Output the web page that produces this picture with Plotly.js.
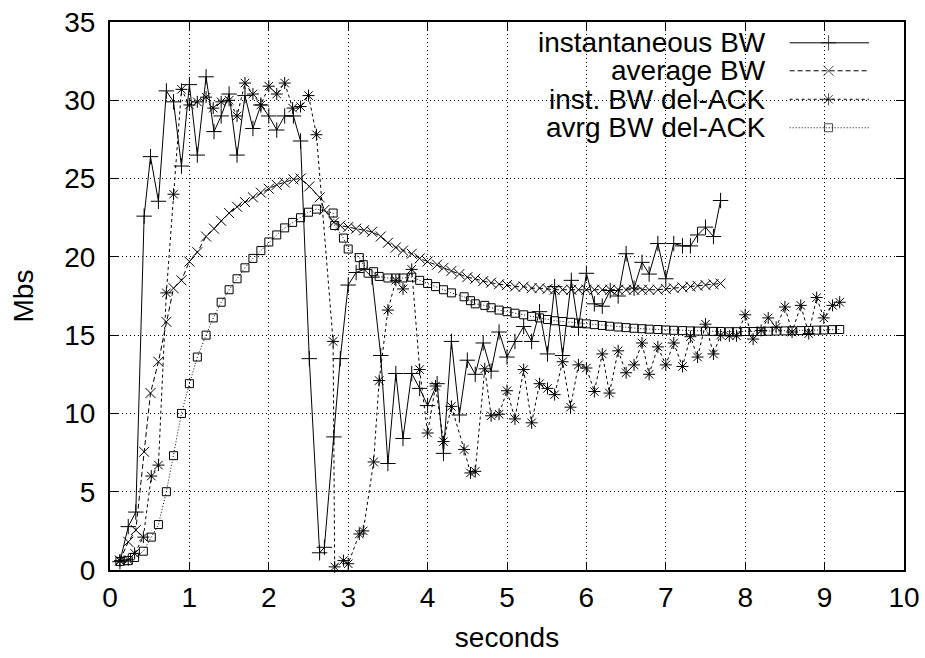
<!DOCTYPE html>
<html>
<head>
<meta charset="utf-8">
<script src="https://cdn.plot.ly/plotly-3.0.1.min.js"></script>
<style>html,body{margin:0;padding:0;background:#fff;}#chart{width:925px;height:658px;}</style>
</head>
<body>
<div id="chart"></div>
<script>
// ---- data ----
var tInst = [0.125,0.23,0.325,0.43,0.51,0.61,0.71,0.80,0.90,1.0,1.10,1.21,1.31,1.40,1.5,1.6,1.7,1.8,1.9,2.0,2.1,2.2,2.31,2.4,2.51,2.64,2.70,2.82,2.90,3.0,3.10,3.20,3.30,3.41,3.50,3.60,3.69,3.80,3.90,4.0,4.12,4.20,4.30,4.40,4.50,4.60,4.70,4.80,4.90,5.0,5.10,5.21,5.31,5.41,5.51,5.60,5.70,5.81,5.90,6.0,6.10,6.20,6.30,6.40,6.50,6.60,6.70,6.79,6.90,7.0,7.10,7.21,7.31,7.40,7.50,7.60,7.69];
var instBW = [0.53,2.77,3.7,22.6,26.4,23.55,30.6,29.9,25.8,31.0,26.5,31.5,28.0,29.0,30.4,26.5,30.3,28.2,29.7,29.0,28.1,29.0,29.0,27.4,13.5,1.1,1.45,8.5,13.5,18.2,19.0,19.2,18.7,13.7,6.8,12.55,8.4,12.55,11.6,10.5,11.9,7.45,14.6,9.9,13.4,12.5,14.5,12.7,15.2,13.6,14.6,15.55,14.6,16.5,13.8,18.1,13.7,18.5,15.5,18.95,17.0,16.85,17.85,17.5,20.2,18.0,19.65,18.9,20.85,18.6,20.85,20.7,20.7,21.4,21.9,21.3,23.6];
var avgBW = [0.6,1.8,2.55,7.55,11.3,13.3,15.85,18.0,18.5,19.7,20.3,21.3,21.8,22.3,22.8,23.2,23.5,23.8,24.1,24.35,24.6,24.75,24.95,25.0,24.5,23.8,23.0,22.2,22.0,21.9,21.8,21.7,21.6,21.3,20.9,20.6,20.4,20.2,19.9,19.7,19.5,19.3,19.1,18.9,18.7,18.6,18.45,18.35,18.25,18.2,18.1,18.1,18.0,18.0,17.95,17.9,17.9,17.9,17.9,17.9,17.9,17.9,17.9,17.9,17.9,17.9,17.9,17.9,17.9,17.95,18.0,18.05,18.1,18.15,18.2,18.25,18.3];

var tDel = [0.125,0.23,0.31,0.42,0.52,0.61,0.71,0.80,0.90,1.0,1.10,1.21,1.30,1.40,1.50,1.60,1.70,1.80,1.90,2.0,2.10,2.20,2.30,2.40,2.50,2.60,2.81,2.83,2.94,3.0,3.14,3.19,3.32,3.39,3.50,3.60,3.69,3.80,3.90,4.0,4.10,4.20,4.30,4.46,4.54,4.60,4.72,4.80,4.90,5.0,5.10,5.21,5.31,5.41,5.51,5.60,5.70,5.80,5.90,6.0,6.10,6.20,6.29,6.40,6.50,6.60,6.70,6.79,6.90,7.0,7.10,7.21,7.31,7.40,7.50,7.60,7.69,7.80,7.89,8.0,8.10,8.20,8.29,8.39,8.50,8.59,8.70,8.80,8.90,8.99,9.10,9.19];
var instDel = [0.6,0.65,1.06,2.1,6.0,6.7,17.7,24.0,30.7,29.7,29.9,30.2,29.5,29.9,30.0,29.0,31.1,30.4,29.7,30.9,30.4,31.1,29.5,29.6,30.3,27.8,14.6,0.2,0.6,0.4,2.3,2.5,6.9,12.1,16.6,18.5,17.95,19.2,12.8,8.75,11.75,8.2,10.45,7.7,6.2,6.3,12.85,9.85,9.95,11.45,9.65,12.8,9.4,11.9,11.6,11.2,13.3,10.4,13.1,12.9,11.4,13.8,11.3,14.0,12.6,13.1,14.5,12.5,14.25,13.1,14.5,13.0,14.9,13.6,15.7,13.8,15.0,14.96,14.96,16.3,14.75,15.3,16.1,15.5,16.8,15.2,16.9,15.1,17.4,16.1,16.9,17.1];
var avgDel = [0.55,0.6,0.8,1.2,2.1,2.9,5.0,7.3,10.0,11.9,13.6,15.0,16.1,17.1,17.9,18.6,19.3,19.9,20.4,20.95,21.4,21.85,22.2,22.5,22.85,23.05,22.8,22.0,21.2,20.5,19.95,19.5,19.05,18.75,18.65,18.65,18.65,18.7,18.5,18.3,18.1,17.9,17.7,17.45,17.2,17.0,16.9,16.75,16.6,16.5,16.4,16.3,16.2,16.1,16.0,15.92,15.87,15.82,15.77,15.72,15.67,15.62,15.57,15.52,15.48,15.44,15.41,15.38,15.36,15.33,15.31,15.29,15.27,15.26,15.25,15.24,15.23,15.22,15.22,15.23,15.23,15.24,15.25,15.26,15.27,15.28,15.29,15.3,15.32,15.33,15.35,15.36];

var seriesNames = ["instantaneous BW","average BW","inst. BW del-ACK","avrg BW del-ACK"];
var xTicks = [0,1,2,3,4,5,6,7,8,9,10];
var yTicks = [0,5,10,15,20,25,30,35];

// ---- styles ----
var FONT = "Liberation Sans, Arial, Helvetica, sans-serif";
var FS = 28;
var styles = [
  {dash:"solid", symbol:"cross-thin-open", size:11},
  {dash:"5px,3px", symbol:"x-thin-open", size:10},
  {dash:"3px,3px", symbol:"asterisk-open", size:10},
  {dash:"1px,2px", symbol:"square-open", size:8}
];
var xs = [tInst, tInst, tDel, tDel];
var ys = [instBW, avgBW, instDel, avgDel];

var traces = [];
for (var i=0;i<4;i++){
  traces.push({
    x: xs[i], y: ys[i], type:"scatter", mode:"lines+markers", name: seriesNames[i],
    showlegend:false, cliponaxis:false,
    line:{color:"#000", width:1, dash:styles[i].dash},
    marker:{symbol:styles[i].symbol, size:styles[i].size, color:"#000", line:{color:"#000", width:1}}
  });
}

// custom gnuplot-style key (text right, sample on the right), in paper-like overlay axes
var keyTextX = 0.8285, keyL = 0.856, keyR = 0.956, keyM = 0.905;
var keyRows = [0.962, 0.911, 0.859, 0.807];
var annotations = [];
for (var k=0;k<4;k++){
  annotations.push({xref:"paper", yref:"paper", x:keyTextX, y:keyRows[k], xanchor:"right", yanchor:"middle",
    text: seriesNames[k], showarrow:false, font:{family:FONT, size:FS, color:"#000"}});
  traces.push({
    x:[keyL, keyM, keyR], y:[keyRows[k], keyRows[k], keyRows[k]], xaxis:"x2", yaxis:"y2",
    type:"scatter", mode:"lines+markers", showlegend:false, hoverinfo:"skip", cliponaxis:false,
    line:{color:"#000", width:1, dash:styles[k].dash},
    marker:{symbol:styles[k].symbol, size:[0, styles[k].size, 0], color:"#000", line:{color:"#000", width:1}}
  });
}

var axisCommon = {
  showline:true, linecolor:"#000", linewidth:2, mirror:"ticks",
  ticks:"inside", ticklen:8, tickwidth:1, tickcolor:"#000",
  showgrid:true, gridcolor:"#000", gridwidth:1, griddash:"1px,3px",
  zeroline:false, tickfont:{family:FONT, size:FS, color:"#000"}, fixedrange:true
};

var layout = {
  width:925, height:658,
  margin:{l:110, r:21, t:22, b:88, pad:0},
  paper_bgcolor:"#fff", plot_bgcolor:"#fff",
  font:{family:FONT, size:FS, color:"#000"},
  showlegend:false,
  xaxis: Object.assign({}, axisCommon, {range:[0,10], tickvals:xTicks, ticktext:xTicks.map(String), ticklabelstandoff:1,
     title:{text:"seconds", font:{family:FONT, size:FS, color:"#000"}, standoff:16}}),
  yaxis: Object.assign({}, axisCommon, {range:[0,35], tickvals:yTicks, ticktext:yTicks.map(String), ticklabelstandoff:7,
     title:{text:"Mbs", font:{family:FONT, size:FS, color:"#000"}, standoff:22}}),
  xaxis2:{overlaying:"x", range:[0,1], visible:false, fixedrange:true},
  yaxis2:{overlaying:"y", range:[0,1], visible:false, fixedrange:true},
  shapes:[{type:"rect", xref:"paper", yref:"paper", x0:0.483, x1:0.979, y0:0.771, y1:0.997, fillcolor:"#fff", line:{width:0}, layer:"between"}],
  annotations: annotations
};

Plotly.newPlot("chart", traces, layout, {staticPlot:true, displayModeBar:false});
</script>
</body>
</html>
